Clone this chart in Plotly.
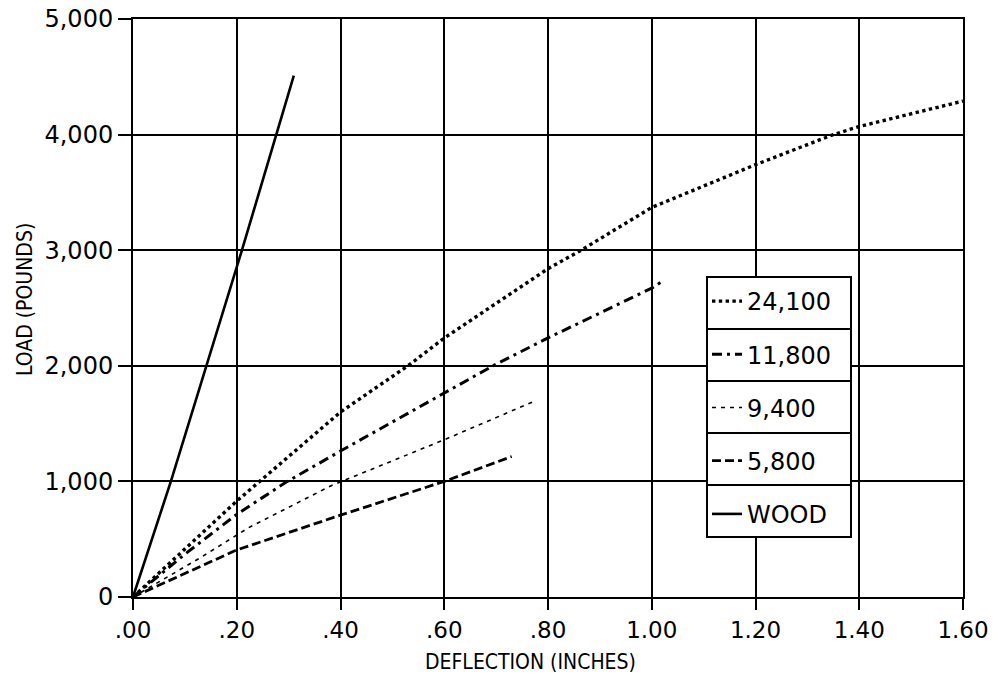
import plotly.graph_objects as go

# ---- data ----
x_24100 = [0.0, 0.1, 0.2, 0.4, 0.53, 0.6, 0.8, 0.864, 1.0, 1.2, 1.35, 1.4, 1.6]
y_24100 = [0, 420, 830, 1600, 2000, 2240, 2840, 3000, 3370, 3740, 4000, 4070, 4290]

x_11800 = [0.0, 0.1, 0.2, 0.294, 0.4, 0.6, 0.694, 0.8, 1.0, 1.02]
y_11800 = [0, 370, 715, 990, 1263, 1767, 2000, 2241, 2672, 2730]

x_9400 = [0.0, 0.13, 0.223, 0.383, 0.6, 0.777]
y_9400 = [0, 340, 600, 965, 1360, 1700]

x_5800 = [0.0, 0.2, 0.4, 0.6, 0.73]
y_5800 = [0, 407, 708, 1000, 1215]

x_wood = [0.0, 0.073, 0.21, 0.277, 0.31]
y_wood = [0, 1000, 3000, 4000, 4510]

series_names = ["24,100", "11,800", "9,400", "5,800", "WOOD"]

x_tickvals = [0.0, 0.2, 0.4, 0.6, 0.8, 1.0, 1.2, 1.4, 1.6]
x_ticktext = [".00", ".20", ".40", ".60", ".80", "1.00", "1.20", "1.40", "1.60"]
y_tickvals = [0, 1000, 2000, 3000, 4000, 5000]
y_ticktext = ["0", "1,000", "2,000", "3,000", "4,000", "5,000"]

# ---- styling ----
FONT = "DejaVu Sans"
FONT_C = "DejaVu Sans Condensed"
styles = [
    dict(width=3.4, dash="dot"),
    dict(width=3.0, dash="10px,5px,3px,5px"),
    dict(width=1.6, dash="4px,5px"),
    dict(width=2.8, dash="9px,4px"),
    dict(width=2.6, dash="solid"),
]
xs = [x_24100, x_11800, x_9400, x_5800, x_wood]
ys = [y_24100, y_11800, y_9400, y_5800, y_wood]

fig = go.Figure()
for i, (name, xv, yv, st) in enumerate(zip(series_names, xs, ys, styles)):
    fig.add_trace(go.Scatter(
        x=xv, y=yv, mode="lines", name=name, legendgroup=f"g{i}",
        line=dict(color="black", width=st["width"], dash=st["dash"]),
    ))

# page pixels (body margin removed below)
W, H = 1004, 679
PX0, PX1, PY0, PY1 = 133, 963, 19, 597   # plot area
L, R, T, B = PX0, W - PX1, PY0, H - PY1
PW, PH = PX1 - PX0, PY1 - PY0


def px(xp):
    return (xp - PX0) / PW


def py(yp):
    return (PY1 - yp) / PH


fig.update_layout(
    width=W, height=H,
    margin=dict(l=L, r=R, t=T, b=B, autoexpand=False),
    paper_bgcolor="white", plot_bgcolor="white",
    font=dict(family=FONT, color="black"),
    showlegend=True,
    legend=dict(
        x=px(707), y=py(279),
        xanchor="left", yanchor="top",
        bgcolor="rgba(0,0,0,0)", borderwidth=0,
        font=dict(family=FONT, size=24, color="black"),
        traceorder="grouped", tracegroupgap=19,
        itemwidth=30,
    ),
    xaxis=dict(
        range=[0, 1.6], tickvals=x_tickvals, ticktext=x_ticktext,
        showgrid=True, gridcolor="black", gridwidth=2,
        showline=True, linecolor="black", linewidth=2, mirror=True,
        ticks="outside", ticklen=11, tickwidth=2, tickcolor="black",
        tickfont=dict(family=FONT, size=23),
        zeroline=False, automargin=False, ticklabeloverflow="allow",
    ),
    yaxis=dict(
        range=[0, 5000], tickvals=y_tickvals, ticktext=y_ticktext,
        showgrid=True, gridcolor="black", gridwidth=2,
        showline=True, linecolor="black", linewidth=2, mirror=True,
        ticks="outside", ticklen=13, tickwidth=2, tickcolor="black",
        tickfont=dict(family=FONT, size=24),
        zeroline=False, automargin=False, ticklabeloverflow="allow",
    ),
)

# axis titles
fig.add_annotation(text="DEFLECTION (INCHES)", xref="paper", yref="paper",
                   x=px(530), y=py(662), xanchor="center", yanchor="middle",
                   showarrow=False,
                   font=dict(family=FONT_C, size=21, color="black"))
fig.add_annotation(text="LOAD (POUNDS)", xref="paper", yref="paper",
                   x=px(25), y=py(300), xanchor="center", yanchor="middle",
                   showarrow=False, textangle=-90,
                   font=dict(family=FONT_C, size=21, color="black"))

# legend frame: each entry sits in its own box
fig.add_shape(type="rect", xref="paper", yref="paper", layer="above",
              x0=px(707), x1=px(851), y0=py(537), y1=py(277),
              fillcolor="white", line=dict(color="black", width=2))
for k in range(1, 5):
    yk = py(277 + 52 * k)
    fig.add_shape(type="line", xref="paper", yref="paper", layer="above",
                  x0=px(707), x1=px(851), y0=yk, y1=yk,
                  line=dict(color="black", width=2))

fig.write_html("out.html",
               config={"displayModeBar": False},
               post_script="document.body.style.margin='0';document.body.style.overflow='hidden';")
